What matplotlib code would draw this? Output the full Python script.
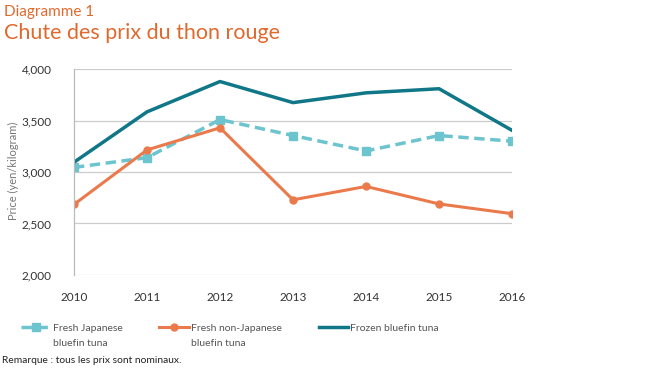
import matplotlib.pyplot as plt

years = [2010, 2011, 2012, 2013, 2014, 2015, 2016]
fresh_japanese = [3045, 3140, 3510, 3355, 3205, 3355, 3300]
fresh_non_japanese = [2685, 3215, 3430, 2730, 2860, 2690, 2595]
frozen = [3095, 3585, 3880, 3675, 3770, 3810, 3405]

labels = ["Fresh Japanese\nbluefin tuna", "Fresh non-Japanese\nbluefin tuna", "Frozen bluefin tuna"]
yticks = [2000, 2500, 3000, 3500, 4000]

c_light = "#6cc4ce"
c_orange = "#ea7a4b"
c_dark = "#0f7787"
c_title = "#e0692e"

plt.rcParams['font.family'] = ['Lato', 'DejaVu Sans']

fig = plt.figure(figsize=(6.5, 3.72), dpi=100)
ax = fig.add_axes([0.1138, 0.261, 0.674, 0.553])

l1, = ax.plot(years, fresh_japanese, color=c_light, lw=2.5, ls=(0, (3, 1.6)),
              marker="s", ms=6)
l2, = ax.plot(years, fresh_non_japanese, color=c_orange, lw=2.2,
              marker="o", ms=5)
l3, = ax.plot(years, frozen, color=c_dark, lw=2.5)

ax.set_xlim(2010, 2016)
ax.set_ylim(2000, 4000)
ax.set_yticks(yticks)
ax.set_yticklabels([f"{v:,}" for v in yticks])
ax.set_xticks(years)
ax.grid(axis="y", color="#cccccc", lw=0.9)
ax.set_axisbelow(True)
for s in ["top", "right", "bottom"]:
    ax.spines[s].set_visible(False)
ax.spines["left"].set_color("#bbbbbb")
ax.spines["left"].set_linewidth(0.9)
ax.tick_params(length=0, labelsize=8.5, colors="#333333")
ax.tick_params(axis="y", pad=16)
ax.tick_params(axis="x", pad=12)
for lbl in ax.get_xticklabels():
    lbl.set_clip_on(False)

fig.text(0.012, 0.54, "Price (yen/kilogram)", rotation=90, ha="left", va="center",
         fontsize=8, color="#777777")

fig.text(0.006, 0.967, "Diagramme 1", fontsize=11, color=c_title, va="center")
fig.text(0.006, 0.912, "Chute des prix du thon rouge", fontsize=15.5, color=c_title,
         va="center")

# legend: handle lines up with the first line of each label, the rest goes below
first_lines = [s.split("\n")[0] for s in labels]
leg = fig.legend([l1, l2, l3], first_lines, loc="upper left",
                 bbox_to_anchor=(0.033, 0.13), ncol=3, frameon=False, fontsize=7.5,
                 handlelength=2.8, handletextpad=0.25, columnspacing=3.5,
                 borderaxespad=0, borderpad=0)
for t in leg.get_texts():
    t.set_color("#555555")

fig.canvas.draw()
inv = fig.transFigure.inverted()
for t, full in zip(leg.get_texts(), labels):
    rest = full.split("\n")[1:]
    if rest:
        bb = t.get_window_extent()
        x0, y0 = inv.transform((bb.x0, bb.y0))
        fig.text(x0, y0 - 0.017, "\n".join(rest), fontsize=7.5, color="#555555",
                 ha="left", va="top")

fig.text(0.003, 0.018, "Remarque : tous les prix sont nominaux.", fontsize=7.4,
         color="#222222", va="bottom")

fig.savefig("out.png", dpi=100)
